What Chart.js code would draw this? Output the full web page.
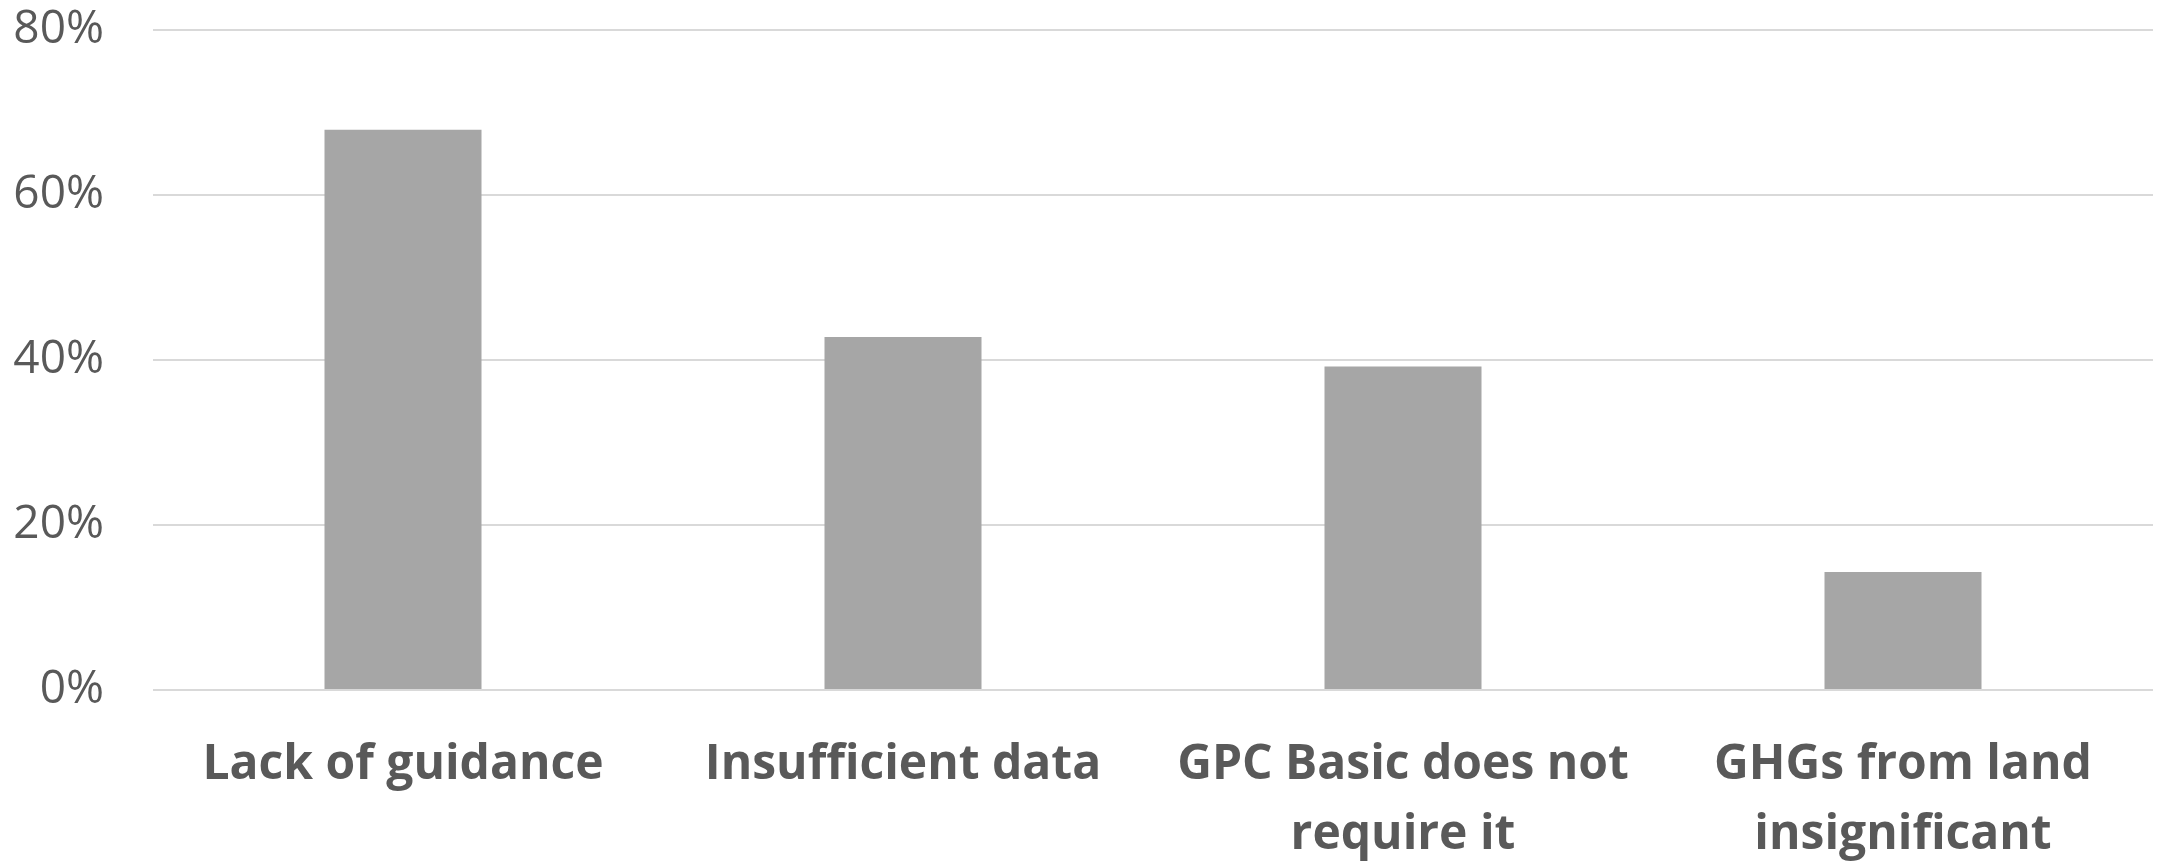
<!DOCTYPE html>
<html lang="en">
<head>
  <meta charset="UTF-8">
  <title>Reasons for excluding land emissions</title>
  <script src="https://cdn.jsdelivr.net/npm/chart.js"></script>
  <style>
    html, body { margin: 0; padding: 0; background: #fff; }
    #wrap { width: 2164px; height: 864px; }
  </style>
</head>
<body>
  <div id="wrap"><canvas id="barChart"></canvas></div>

  <script>
    // values
    const categories = [
      "Lack of guidance",
      "Insufficient data",
      ["GPC Basic does not", "require it"],
      ["GHGs from land", "insignificant"]
    ];
    const shares = [67.9, 42.8, 39.2, 14.3];
    const yTicks = [0, 20, 40, 60, 80];

    const textGrey = "#595959";

    const ctx = document.getElementById("barChart").getContext("2d");
    new Chart(ctx, {
      type: "bar",
      data: {
        labels: categories,
        datasets: [{
          data: shares,
          backgroundColor: "#a6a6a6",
          borderWidth: 0,
          categoryPercentage: 1,
          barPercentage: 0.314
        }]
      },
      options: {
        responsive: true,
        maintainAspectRatio: false,
        animation: false,
        layout: { padding: { top: 30, right: 11, bottom: 0, left: 0 } },
        plugins: {
          legend: { display: false },
          tooltip: { enabled: false }
        },
        scales: {
          x: {
            grid: { display: false, drawTicks: false },
            border: { display: false },
            // keep the plot bottom at the same place as the original
            afterFit: (scale) => { scale.height = 174; },
            ticks: {
              color: textGrey,
              padding: 41,
              maxRotation: 0,
              autoSkip: false,
              font: { family: "'Open Sans'", size: 48, weight: "bold", lineHeight: 1.45 }
            }
          },
          y: {
            min: 0,
            max: 80,
            afterBuildTicks: (scale) => { scale.ticks = yTicks.map(v => ({ value: v })); },
            afterFit: (scale) => {
              scale.width = 153;
              scale.paddingTop = 0;
              scale.paddingBottom = 0;
            },
            grid: { color: "#d9d9d9", lineWidth: 2, drawTicks: false },
            border: { display: false },
            ticks: {
              color: textGrey,
              padding: 49,
              font: { family: "'Open Sans'", size: 46 },
              callback: (v) => v + "%"
            }
          }
        }
      }
    });
  </script>
</body>
</html>
